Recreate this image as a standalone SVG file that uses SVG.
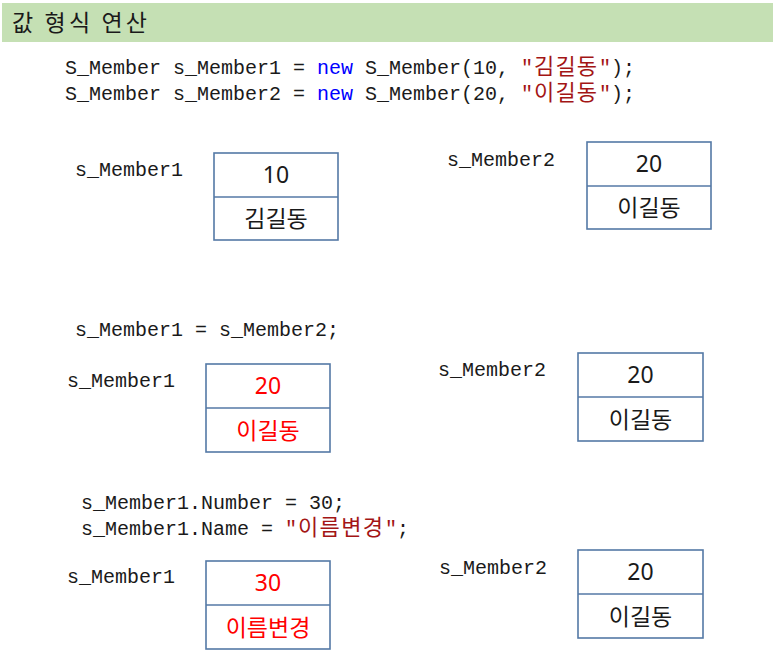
<svg xmlns="http://www.w3.org/2000/svg" width="773" height="668" viewBox="0 0 773 668">
<style>
.code{font-family:"Liberation Mono","Noto Sans CJK KR",monospace;font-size:20px;fill:#1a1a1a}
.kr{font-family:"Noto Sans CJK KR",sans-serif;font-size:22px}
.kw{fill:#0000ff}
.str{fill:#a31515}
.box{fill:#ffffff;stroke:#5479a6;stroke-width:1.6}
.val{font-family:"Noto Sans","Noto Sans CJK KR",sans-serif;font-size:23px;fill:#1a1a1a;text-anchor:middle}
.red{fill:#ff0000}
.title{font-family:"Noto Sans CJK KR",sans-serif;font-size:23px;fill:#1a1a1a}
</style>
<rect x="2" y="3" width="771" height="39" fill="#c5e0b4"/>
<text class="title" x="12" y="31" textLength="135" lengthAdjust="spacing">값 형식 연산</text>

<g id="code-init">
<text class="code" y="74"><tspan x="65">S_Member s_Member1 = </tspan><tspan x="317" class="kw">new</tspan><tspan x="365">S_Member(10, </tspan><tspan x="521" class="str">"</tspan><tspan x="534" class="str kr" textLength="63" lengthAdjust="spacing">김길동</tspan><tspan x="599" class="str">"</tspan><tspan x="611">);</tspan></text>
<text class="code" y="100"><tspan x="65">S_Member s_Member2 = </tspan><tspan x="317" class="kw">new</tspan><tspan x="365">S_Member(20, </tspan><tspan x="521" class="str">"</tspan><tspan x="534" class="str kr" textLength="63" lengthAdjust="spacing">이길동</tspan><tspan x="599" class="str">"</tspan><tspan x="611">);</tspan></text>
</g>

<g id="code-assign">
<text class="code" x="75" y="336">s_Member1 = s_Member2;</text>
</g>

<g id="code-modify">
<text class="code" x="81" y="509">s_Member1.Number = 30;</text>
<text class="code" y="535"><tspan x="81">s_Member1.Name = </tspan><tspan x="285" class="str">"</tspan><tspan x="298" class="str kr" textLength="85" lengthAdjust="spacing">이름변경</tspan><tspan x="385" class="str">"</tspan><tspan x="397">;</tspan></text>
</g>

<g id="node1">
<text class="code" x="75" y="176">s_Member1</text>
<rect class="box" x="214" y="153" width="124" height="87"/>
<line class="box" x1="214" y1="197" x2="338" y2="197"/>
<text class="val" x="276" y="183">10</text>
<text class="val" x="276" y="227">김길동</text>
</g>

<g id="node2">
<text class="code" x="447" y="166">s_Member2</text>
<rect class="box" x="587" y="142" width="124" height="87"/>
<line class="box" x1="587" y1="186" x2="711" y2="186"/>
<text class="val" x="649" y="172">20</text>
<text class="val" x="649" y="216">이길동</text>
</g>

<g id="node3">
<text class="code" x="67" y="387">s_Member1</text>
<rect class="box" x="206" y="364" width="124" height="88"/>
<line class="box" x1="206" y1="408" x2="330" y2="408"/>
<text class="val red" x="268" y="394">20</text>
<text class="val red" x="268" y="439">이길동</text>
</g>

<g id="node4">
<text class="code" x="438" y="376">s_Member2</text>
<rect class="box" x="578" y="353" width="125" height="88"/>
<line class="box" x1="578" y1="397" x2="703" y2="397"/>
<text class="val" x="640.5" y="383">20</text>
<text class="val" x="640.5" y="428">이길동</text>
</g>

<g id="node5">
<text class="code" x="67" y="583">s_Member1</text>
<rect class="box" x="206" y="561" width="124" height="88"/>
<line class="box" x1="206" y1="605" x2="330" y2="605"/>
<text class="val red" x="268" y="591">30</text>
<text class="val red" x="268" y="636">이름변경</text>
</g>

<g id="node6">
<text class="code" x="439" y="574">s_Member2</text>
<rect class="box" x="578" y="550" width="125" height="88"/>
<line class="box" x1="578" y1="594" x2="703" y2="594"/>
<text class="val" x="640.5" y="580">20</text>
<text class="val" x="640.5" y="625">이길동</text>
</g>

<g id="connectors"></g>
</svg>
